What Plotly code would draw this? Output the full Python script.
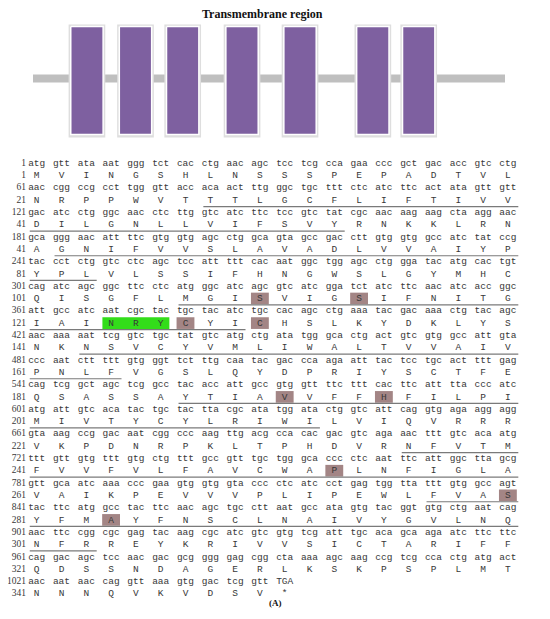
import plotly.graph_objects as go

title = "Transmembrane region"
panel_label = "(A)"
protein_length = 350

# predicted transmembrane helices (first, last residue)
tm_start = [28, 62, 107, 143, 187, 236, 277]
tm_end = [53, 83, 129, 164, 212, 260, 303]
# where each helix box sits on the schematic (residues along the membrane line)
tm_box_pos = [40, 76, 111, 155, 198, 252, 286]

nt_labels = ["1", "61", "121", "181", "241", "301", "361", "421", "481",
             "541", "601", "661", "721", "781", "841", "901", "961", "1021"]
aa_labels = ["1", "21", "41", "41", "81", "101", "121", "141", "161",
             "181", "201", "221", "241", "261", "281", "301", "321", "341"]

nt_rows = [
    "atg gtt ata aat ggg tct cac ctg aac agc tcc tcg cca gaa ccc gct gac acc gtc ctg",
    "aac cgg ccg cct tgg gtt acc aca act ttg ggc tgc ttt ctc atc ttc act ata gtt gtt",
    "gac atc ctg ggc aac ctc ttg gtc atc ttc tcc gtc tat cgc aac aag aag cta agg aac",
    "gca ggg aac att ttc gtg gtg agc ctg gca gta gcc gac ctt gtg gtg gcc atc tat ccg",
    "tac cct ctg gtc ctc agc tcc att ttt cac aat ggc tgg agc ctg gga tac atg cac tgt",
    "cag atc agc ggc ttc ctc atg ggc atc agc gtc atc gga tct atc ttc aac atc acc ggc",
    "att gcc atc aat cgc tac tgc tac atc tgc cac agc ctg aaa tac gac aaa ctg tac agc",
    "aac aaa aat tcg gtc tgc tat gtc atg ctg ata tgg gca ctg act gtc gtg gcc att gta",
    "ccc aat ctt ttt gtg ggt tct ttg caa tac gac cca aga att tac tcc tgc act ttt gag",
    "cag tcg gct agc tcg gcc tac acc att gcc gtg gtt ttc ttt cac ttc att tta ccc atc",
    "atg att gtc aca tac tgc tac tta cgc ata tgg ata ctg gtc att cag gtg aga agg agg",
    "gta aag ccg gac aat cgg ccc aag ttg acg cca cac gac gtc aga aac ttt gtc aca atg",
    "ttt gtt gtg ttt gtg ctg ttt gcc gtt tgc tgg gca ccc ctc aat ttc att ggc tta gcg",
    "gtt gca atc aaa ccc gaa gtg gtg gta ccc ctc atc cct gag tgg tta ttt gtg gcc agt",
    "tac ttc atg gcc tac ttc aac agc tgc ctt aat gcc ata gtg tac ggt gtg ctg aat cag",
    "aac ttc cgg cgc gag tac aag cgc atc gtc gtg tcg att tgc aca gca aga atc ttc ttc",
    "cag gac agc tcc aac gac gcg ggg gag cgg cta aaa agc aag ccg tcg cca ctg atg act",
    "aac aat aac cag gtt aaa gtg gac tcg gtt TGA",
]
aa_rows = [
    "MVINGSHLNSSSPEPADTVL",
    "NRPPWVTTTLGCFLIFTIVV",
    "DILGNLLVIFSVYRNKKLRN",
    "AGNIFVVSLAVADLVVAIYP",
    "YPLVLSSIFHNGWSLGYMHC",
    "QISGFLMGISVIGSIFNITG",
    "IAINRYCYICHSLKYDKLYS",
    "NKNSVCYVMLIWALTVVAIV",
    "PNLFVGSLQYDPRIYSCTFE",
    "QSASSAYTIAVVFFHFILPI",
    "MIVTYCYLRIWILVIQVRRR",
    "VKPDNRPKLTPHDVRNFVTM",
    "FVVFVLFAVCWAPLNFIGLA",
    "VAIKPEVVVPLIPEWLFVAS",
    "YFMAYFNSCLNAIVYGVLNQ",
    "NFRREYKRIVVSICTARIFF",
    "QDSSNDAGERLKSKPSPLMT",
    "NNNQVKVDSV*",
]

shaded_residues = [110, 114, 127, 130, 191, 195, 253, 280, 284]
motif_residues = [124, 125, 126]

PER_ROW = 20
MONO = "Liberation Mono, Courier New, monospace"
SERIF = "Liberation Serif, Times New Roman, serif"
TEXT_COLOR = "#383838"

# page body has an 8px margin, so the figure is a bit smaller than the window
W, H = 542, 611


def cell(res):
    """column (1..20) and line index of a residue in the listing"""
    r = (res - 1) // PER_ROW
    return (res - 1) % PER_ROW + 1, 2 * r + 1


fig = go.Figure()

# ---------- schematic of the helices ----------
fig.add_trace(go.Scatter(
    x=[0, protein_length], y=[0, 0], mode="lines",
    line=dict(color="#bfbfbf", width=8),
    xaxis="x", yaxis="y", hoverinfo="skip"
))

half_w, top, bot = 12, 52, -56
for c in tm_box_pos:
    # soft shadow round each box
    fig.add_trace(go.Scatter(
        x=[c - half_w - 1.6, c + half_w + 1.6, c + half_w + 1.6, c - half_w - 1.6, c - half_w - 1.6],
        y=[top + 2, top + 2, bot - 3, bot - 3, top + 2],
        mode="lines", fill="toself", fillcolor="#dedede",
        line=dict(width=0), xaxis="x", yaxis="y", hoverinfo="skip"
    ))
    fig.add_trace(go.Scatter(
        x=[c - half_w, c + half_w, c + half_w, c - half_w, c - half_w],
        y=[top, top, bot, bot, top],
        mode="lines", fill="toself", fillcolor="#7e60a0",
        line=dict(color="white", width=1.5), xaxis="x", yaxis="y", hoverinfo="skip"
    ))

# ---------- sequence listing ----------
# shaded residues
hx, hy = [], []
for res in shaded_residues:
    col, line = cell(res)
    hx.append(col)
    hy.append(line)
fig.add_trace(go.Bar(
    x=hx, y=[0.95] * len(hx), base=[v - 0.5 for v in hy], width=0.72,
    marker=dict(color="#a38585", line=dict(width=0)),
    xaxis="x2", yaxis="y2", hoverinfo="skip"
))
# NRY motif
mcols = [cell(r)[0] for r in motif_residues]
mline = cell(motif_residues[0])[1]
fig.add_trace(go.Bar(
    x=[(mcols[0] + mcols[-1]) / 2], y=[0.95], base=[mline - 0.5],
    width=mcols[-1] - mcols[0] + 0.7,
    marker=dict(color="#33dd1a", line=dict(width=0)),
    xaxis="x2", yaxis="y2", hoverinfo="skip"
))

# underline the helices
ux, uy = [], []
for s, e in zip(tm_start, tm_end):
    res = s
    while res <= e:
        col, line = cell(res)
        last = min(e, res + (PER_ROW - col))
        lcol = cell(last)[0]
        ux += [col - 0.28, lcol + 0.42, None]
        uy += [line + 0.5, line + 0.5, None]
        res = last + 1
fig.add_trace(go.Scatter(
    x=ux, y=uy, mode="lines", line=dict(color="#7a7a7a", width=1.2),
    xaxis="x2", yaxis="y2", hoverinfo="skip"
))

# letters
tx, ty, tt = [], [], []
for i, (nt, aa) in enumerate(zip(nt_rows, aa_rows)):
    for j, codon in enumerate(nt.split()):
        tx.append(j + 1)
        ty.append(2 * i)
        tt.append(codon)
    for j, a in enumerate(aa):
        tx.append(j + 1)
        ty.append(2 * i + 1)
        tt.append(a)
fig.add_trace(go.Scatter(
    x=tx, y=ty, text=tt, mode="text", textposition="middle center",
    textfont=dict(family=MONO, size=9.5, color=TEXT_COLOR),
    xaxis="x2", yaxis="y2", hoverinfo="skip"
))

# row numbers
lx, ly, lt = [], [], []
for i, (a, b) in enumerate(zip(nt_labels, aa_labels)):
    lx += [0.57, 0.57]
    ly += [2 * i, 2 * i + 1]
    lt += [a, b]
fig.add_trace(go.Scatter(
    x=lx, y=ly, text=lt, mode="text", textposition="middle left",
    textfont=dict(family=SERIF, size=9.5, color=TEXT_COLOR),
    xaxis="x2", yaxis="y2", hoverinfo="skip"
))

hidden = dict(visible=False, showgrid=False, zeroline=False, fixedrange=True)
fig.update_layout(
    width=W, height=H,
    margin=dict(l=0, r=0, t=0, b=0),
    paper_bgcolor="white", plot_bgcolor="rgba(0,0,0,0)",
    showlegend=False, barmode="overlay",
    xaxis=dict(hidden, domain=[0, 1], range=[-18.54, 383.36], anchor="y"),
    yaxis=dict(hidden, domain=[0, 1], range=[-540.5, 70.5], anchor="x"),
    xaxis2=dict(hidden, domain=[0, 1], range=[-0.157, 21.698], anchor="y2"),
    yaxis2=dict(hidden, domain=[0, 1], range=[37.03, -12.64], anchor="x2"),
    annotations=[
        dict(text="<b>" + title + "</b>", x=254 / W, y=1 + 3 / H,
             xref="paper", yref="paper", showarrow=False,
             xanchor="center", yanchor="top",
             font=dict(family=SERIF, size=12, color="#111")),
        dict(text="<b>" + panel_label + "</b>", x=267 / W, y=1 - 595 / H,
             xref="paper", yref="paper", showarrow=False,
             xanchor="center", yanchor="middle",
             font=dict(family=SERIF, size=9, color="#111")),
    ],
)

fig.write_html("out.html")
